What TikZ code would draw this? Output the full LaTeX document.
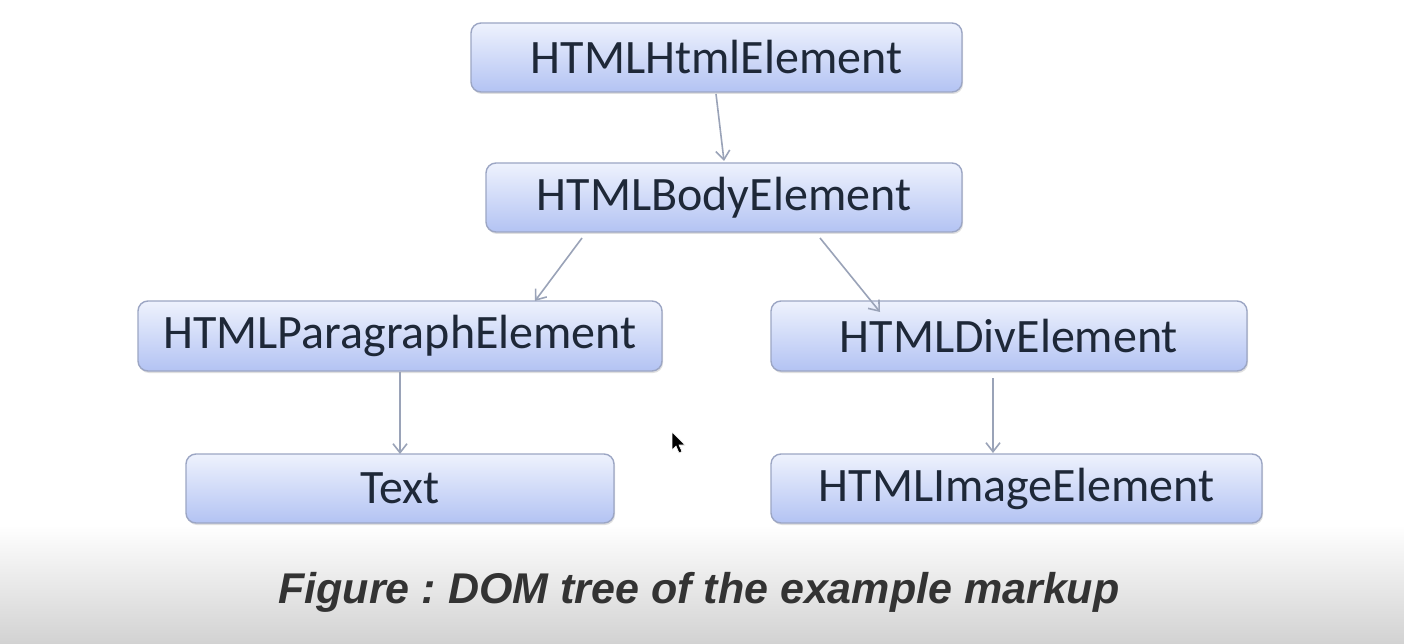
\documentclass[tikz,border=0pt]{standalone}
\usepackage{fontspec}
\setmainfont{Carlito}
\newfontfamily\capfont{Liberation Sans}
\usetikzlibrary{arrows.meta,shadows}
\frenchspacing
\definecolor{boxtop}{HTML}{EEF2FD}
\definecolor{boxbot}{HTML}{B3C3F3}
\definecolor{boxedge}{HTML}{9CA6C4}
\definecolor{txt}{HTML}{1E2838}
\definecolor{arr}{HTML}{9AA3B8}
\definecolor{bggray}{HTML}{D2D2D2}
\tikzset{
  elem/.style={draw=boxedge, line width=1.4pt, rounded corners=10pt,
    top color=boxtop, bottom color=boxbot, text=txt,
    font=\fontsize{48}{52}\selectfont, inner sep=0pt,
    drop shadow={opacity=0.25, shadow xshift=1pt, shadow yshift=-2pt}},
  link/.style={draw=arr, line width=1.6pt, -{Straight Barb[length=9pt,width=14pt]}}
}
\begin{document}
\begin{tikzpicture}[x=1pt,y=-1pt]
\useasboundingbox (0,0) rectangle (1404,644);
\fill[white] (0,0) rectangle (1404,644);
\shade[top color=white, bottom color=bggray] (0,525) rectangle (1404,644);
\node[elem, minimum width=491pt, minimum height=69pt] (html) at (716.5,57.5) {HTMLHtmlElement};
\node[elem, minimum width=476pt, minimum height=69pt] (body) at (724,197.5) {HTMLBodyElement};
\node[elem, minimum width=524pt, minimum height=70pt] (para) at (400,336) {HTMLParagraphElement};
\node[elem, minimum width=476pt, minimum height=70pt] (div) at (1009,336) {HTMLDivElement};
\node[elem, minimum width=428pt, minimum height=69pt] (text) at (400,488.5) {Text};
\node[elem, minimum width=491pt, minimum height=69pt] (img) at (1016.5,488.5) {HTMLImageElement};
\coordinate (h1) at (716,94);
\coordinate (b0) at (724,161);
\coordinate (b1) at (582,238);
\coordinate (p0) at (535,301);
\coordinate (b2) at (820,238);
\coordinate (d0) at (880,312);
\coordinate (p1) at (400,372);
\coordinate (t0) at (400,454);
\coordinate (d1) at (993,378);
\coordinate (i0) at (993,453);
\draw[link] (h1) -- (b0);
\draw[link] (b1) -- (p0);
\draw[link] (b2) -- (d0);
\draw[link] (p1) -- (t0);
\draw[link] (d1) -- (i0);
\node[font=\capfont\bfseries\itshape\fontsize{43}{48}\selectfont, text=black!80] (cap) at (699,592) {Figure : DOM tree of the example markup};
\fill[black, draw=white, line width=0.6pt] (672,432) -- ++(0,18) -- ++(4,-4) -- ++(3,7) -- ++(3,-1.5) -- ++(-3,-6.5) -- ++(6,0) -- cycle;
\end{tikzpicture}
\end{document}
